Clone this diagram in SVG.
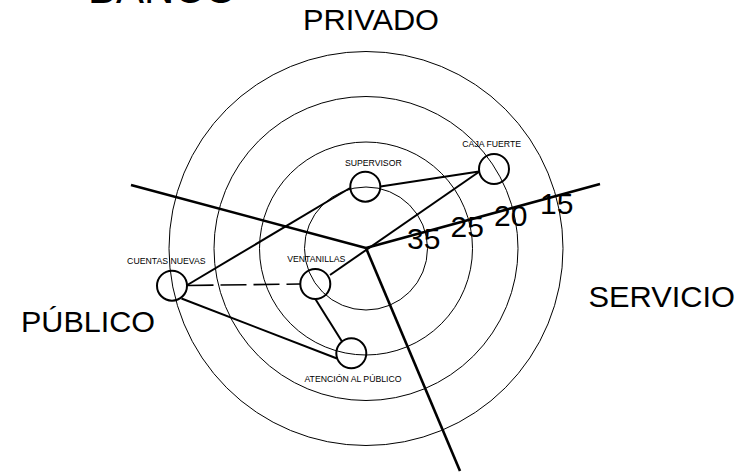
<svg xmlns="http://www.w3.org/2000/svg" width="743" height="473" viewBox="0 0 743 473">
<style>
.ring{fill:none;stroke:#000;stroke-width:1}
.axis{fill:none;stroke:#000;stroke-width:2.6;stroke-linecap:butt}
.edge{fill:none;stroke:#000;stroke-width:2}
.dash{fill:none;stroke:#000;stroke-width:1.6;stroke-dasharray:26 7}
.node{fill:none;stroke:#000;stroke-width:2}
.big{font-family:"Liberation Sans",Arial,sans-serif;font-size:29px;fill:#000}
.num{font-family:"Liberation Sans",Arial,sans-serif;font-size:30px;fill:#000}
.lbl{font-family:"Liberation Sans",Arial,sans-serif;font-size:8.7px;fill:#000;text-anchor:middle}
</style>
<rect width="743" height="473" fill="#fff"/>
<text class="big" x="88" y="3" textLength="149" lengthAdjust="spacingAndGlyphs" style="font-size:42px">BANCO</text>
<text class="big" x="303" y="30" textLength="136" lengthAdjust="spacingAndGlyphs">PRIVADO</text>
<text class="big" x="21" y="331.5" textLength="134" lengthAdjust="spacingAndGlyphs">PÚBLICO</text>
<text class="big" x="588.5" y="306.5" textLength="146.5" lengthAdjust="spacingAndGlyphs">SERVICIO</text>
<g id="rings">
<circle class="ring" cx="366" cy="248.5" r="197"/>
<circle class="ring" cx="366" cy="248.5" r="152"/>
<circle class="ring" cx="366" cy="248.5" r="106.5"/>
<circle class="ring" cx="366" cy="248.5" r="61.5"/>
</g>
<g id="axes">
<line class="axis" x1="131" y1="185" x2="366" y2="248"/>
<line class="axis" x1="366" y1="248" x2="600" y2="184"/>
<line class="axis" x1="366" y1="248" x2="460" y2="471"/>
</g>
<g id="scale">
<text class="num" x="407" y="248.5">35</text>
<text class="num" x="450.5" y="237">25</text>
<text class="num" x="494" y="225.5">20</text>
<text class="num" x="540" y="214">15</text>
</g>
<g id="connectors">
<line class="edge" x1="186.5" y1="285.5" x2="350" y2="188"/>
<line class="edge" x1="380.5" y1="186.5" x2="479" y2="171.5"/>
<line class="edge" x1="479.5" y1="171.5" x2="330" y2="275"/>
<line class="dash" x1="187.5" y1="285.5" x2="300" y2="284"/>
<line class="edge" x1="181.5" y1="298.5" x2="337" y2="358.5"/>
<line class="edge" x1="315" y1="298.5" x2="342" y2="341.5"/>
</g>
<g id="supervisor">
<circle class="node" cx="365.3" cy="186.7" r="15"/>
<text class="lbl" x="373.3" y="165.7">SUPERVISOR</text>
</g>
<g id="caja-fuerte">
<circle class="node" cx="494" cy="169" r="15"/>
<text class="lbl" x="491.7" y="147.3">CAJA FUERTE</text>
</g>
<g id="cuentas-nuevas">
<circle class="node" cx="172" cy="285.7" r="15"/>
<text class="lbl" x="166.3" y="264">CUENTAS NUEVAS</text>
</g>
<g id="ventanillas">
<circle class="node" cx="315.3" cy="284" r="15"/>
<text class="lbl" x="316.3" y="262.3">VENTANILLAS</text>
</g>
<g id="atencion">
<circle class="node" cx="351.3" cy="353.3" r="15"/>
<text class="lbl" x="353" y="381.7">ATENCIÓN AL PÚBLICO</text>
</g>
</svg>
